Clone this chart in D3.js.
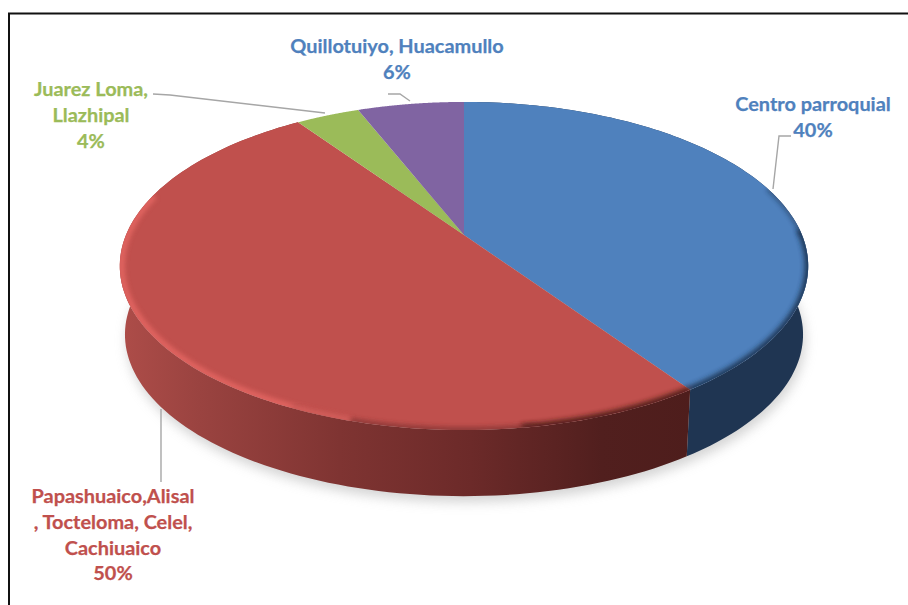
<!DOCTYPE html>
<html><head><meta charset="utf-8">
<script src="https://cdn.jsdelivr.net/npm/d3@7"></script>
<style>html,body{margin:0;background:#fff}svg{display:block}text{font-family:Lato,sans-serif;font-weight:700;font-size:19.9px;stroke-width:.25px}</style>
</head><body><svg id="c" width="908" height="605"></svg>
<script>
const categories=["Centro parroquial","Papashuaico,Alisal , Tocteloma, Celel, Cachiuaico","Juarez Loma, Llazhipal","Quillotuiyo, Huacamullo"];
const values=[40.45,49.95,3.6,6];
const percentLabels=["40%","50%","4%","6%"];
const labelLines=[["Centro parroquial"],["Papashuaico,Alisal",", Tocteloma, Celel,","Cachiuaico"],["Juarez Loma,","Llazhipal"],["Quillotuiyo, Huacamullo"]];
const sliceColors=["#4f81bd","#c0504d","#9bbb59","#8064a2"];

const svg=d3.select("#c"),defs=svg.append("defs");
const cx=464,cy=235,A=338,B=158.2,p=0.189,depth=69,botScale=0.985;
function proj(a,dy=0,scale=1){const X=Math.sin(a),Y=-Math.cos(a),s=1/(1-p*Y);
  return [cx+A*X*s*scale,cy+B*Y*s*scale+dy];}
const samples=(a0,a1,n=120)=>d3.range(n+1).map(i=>a0+(a1-a0)*i/n);
const line=d3.line();
const arcs=d3.pie().sort(null).value(d=>d)(values);
const full=samples(0,2*Math.PI,360);
const topPath=line(full.map(a=>proj(a)))+"Z";
const botPts=full.map(a=>proj(a,depth,botScale));

const blur=(id,sd)=>defs.append("filter").attr("id",id).attr("x","-20%").attr("y","-20%").attr("width","140%").attr("height","140%")
  .append("feGaussianBlur").attr("stdDeviation",sd);
blur("sh",6);blur("bv",2.6);blur("bv2",2.4);
defs.append("clipPath").attr("id","topClip").append("path").attr("d",topPath);

const lg=(id,stops)=>{const g=defs.append("linearGradient").attr("id",id).attr("gradientUnits","userSpaceOnUse")
  .attr("x1",119).attr("x2",809).attr("y1",0).attr("y2",0);
  stops.forEach(([o,c])=>g.append("stop").attr("offset",o).attr("stop-color",c));};
lg("wallR",[[0,"#ae4d49"],[0.117,"#9a4340"],[0.32,"#7f3432"],[0.51,"#6c2a29"],[0.7,"#511f1e"],[1,"#4a1b19"]]);
lg("wallB",[[0,"#1f3552"],[1,"#1f3552"]]);

// ground shadow
svg.append("path").attr("d",line(botPts.map(([x,y])=>[x+2,y+6]))+"Z").attr("fill","#b0b0b0").attr("opacity",.55).attr("filter","url(#sh)");

// side walls
const wallFill=["url(#wallB)","url(#wallR)",null,null];
arcs.forEach((d,i)=>{ if(!wallFill[i])return;
  const a=samples(d.startAngle,d.endAngle);
  const pts=a.map(t=>proj(t)).concat(a.slice().reverse().map(t=>proj(t,depth,botScale)));
  svg.append("path").attr("d",line(pts)+"Z").attr("fill",wallFill[i]);
});

// top face
arcs.forEach((d,i)=>{
  const pts=[[cx,cy]].concat(samples(d.startAngle,d.endAngle).map(t=>proj(t)));
  svg.append("path").attr("d",line(pts)+"Z").attr("fill",sliceColors[i]);
});

// bevel on the rim
const bevel=svg.append("g").attr("clip-path","url(#topClip)");
const rim=(a0,a1,col,w,op,sc=1,f="bv")=>bevel.append("path").attr("d",line(samples(a0,a1).map(t=>proj(t,0,sc)))).attr("fill","none")
  .attr("stroke",col).attr("stroke-width",w).attr("opacity",op).attr("filter",`url(#${f})`);
const deg=Math.PI/180;
rim(72*deg,90*deg,"#14263d",3,.7);
rim(88*deg,arcs[0].endAngle,"#1f3552",7,.95);
rim(arcs[1].startAngle,172*deg,"#4a1b19",7,.95);
rim(170*deg,205*deg,"#6c2a29",5,.7);
rim(196*deg,285*deg,"#ea6a66",6,.85,.995,"bv2");

// frame
svg.append("path").attr("d","M9,605V13.5H908").attr("fill","none").attr("stroke","#111").attr("stroke-width",2);

// leader lines
const leaders=[[[773,189],[779,136],[791,136]],[[161,409],[161,482]],[[325,113],[170,95],[153,94]],[[410,101],[400,94],[388,94]]];
svg.selectAll("path.l").data(leaders).join("path").attr("class","l").attr("d",line).attr("fill","none").attr("stroke","#a6a6a6").attr("stroke-width",1.4);

// labels
const textColors=["#4f81bd","#c0504d","#9bbb59","#4f81bd"];
const labelPos=[[813,111],[113,503],[91,96],[397,53]];
const lh=25.8;
categories.forEach((c,i)=>{
  const t=svg.append("text").attr("text-anchor","middle").attr("fill",textColors[i]).attr("stroke",textColors[i]);
  labelLines[i].concat([percentLabels[i]]).forEach((s,j)=>t.append("tspan").attr("x",labelPos[i][0]).attr("y",labelPos[i][1]+j*lh).text(s));
});
</script></body></html>
